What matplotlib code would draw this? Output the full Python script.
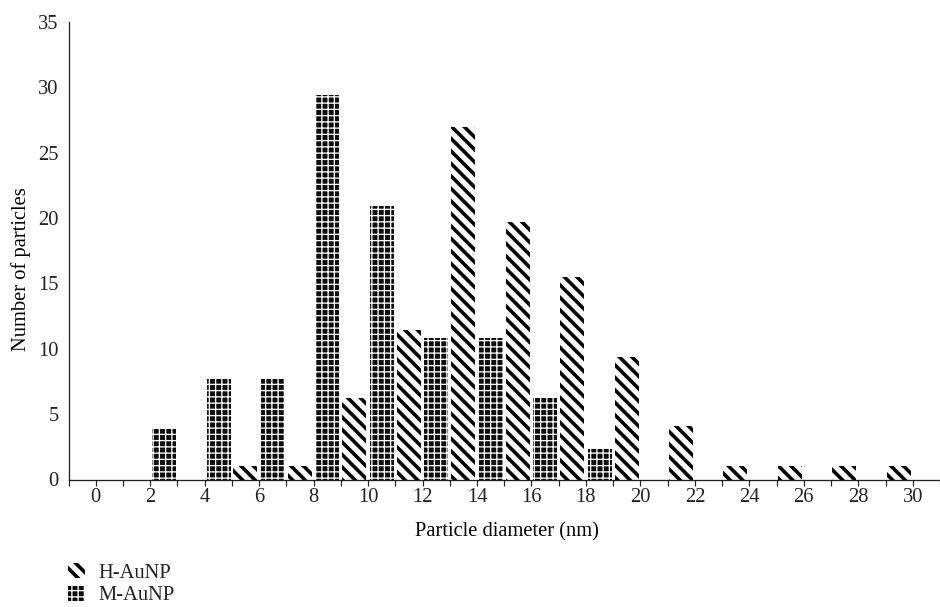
import matplotlib
matplotlib.use("Agg")
import matplotlib.pyplot as plt
import numpy as np

DPI = 75  # hatch tile is one inch, so this sets the stripe spacing

diameters = ["0", "2", "4", "6", "8", "10", "12", "14", "16", "18", "20", "22", "24", "26", "28", "30"]
h_aunp = [0, 0, 0, 1.0, 1.0, 6.2, 11.4, 27.0, 19.7, 15.5, 9.4, 4.1, 1.0, 1.0, 1.0, 1.0]
m_aunp = [0, 3.85, 7.7, 7.7, 29.4, 20.9, 10.8, 10.8, 6.2, 2.3, 0, 0, 0, 0, 0, 0]


def pt(px):
  # pixel size -> points at the figure dpi
  return px * 72.0 / DPI


plt.rcParams['font.family'] = ['Liberation Serif', 'DejaVu Serif']
plt.rcParams['text.color'] = '#222222'
plt.rcParams['xtick.color'] = '#222222'
plt.rcParams['ytick.color'] = '#222222'
plt.rcParams['hatch.linewidth'] = pt(3.6)

fs = pt(20.5)
m_hatch_lw = pt(1.3)

fig = plt.figure(figsize=(940 / DPI, 607 / DPI), dpi=DPI)
ax = fig.add_axes([68.5 / 940, 127.5 / 607, 1 - 68.5 / 940, 457.5 / 607])

x = np.arange(len(diameters))
w = 0.44
h_bars = ax.bar(x - 0.255, h_aunp, width=w, facecolor='white', edgecolor='black',
                linewidth=0, hatch='\\\\', label='H-AuNP')
m_bars = ax.bar(x + 0.255, m_aunp, width=w, facecolor='#0d0d0d', edgecolor='white',
                linewidth=0, hatch='++', label='M-AuNP')
for b in m_bars:
  b.set_hatch_linewidth(m_hatch_lw)

ax.set_xlim(-0.5, -0.5 + (940 - 68.5) / 54.8)
ax.set_ylim(0, 35)

ax.set_xticks(x)
ax.set_xticklabels(diameters, fontsize=fs)
ax.set_xticks(np.arange(-0.5, len(diameters), 1.0), minor=True)
ax.tick_params(axis='x', which='both', direction='out', length=pt(6), width=pt(1.2), pad=pt(2))
ax.set_yticks(np.arange(0, 36, 5))
ax.tick_params(axis='y', which='both', length=0, labelsize=fs, pad=pt(10))

for side in ['top', 'right']:
  ax.spines[side].set_visible(False)
for side in ['left', 'bottom']:
  ax.spines[side].set_linewidth(pt(1.3))
  ax.spines[side].set_color('#222222')

ax.set_xlabel("Particle diameter (nm)", fontsize=fs)
ax.xaxis.set_label_coords(0.503, -0.093)
ax.set_ylabel("Number of particles", fontsize=fs)
ax.yaxis.set_label_coords(-0.0425, 0.46)

leg = fig.legend(handles=[h_bars, m_bars], labels=['H-AuNP', 'M-AuNP'], loc='upper left',
                 bbox_to_anchor=(68 / 940, 1 - 563 / 607), frameon=False, fontsize=fs,
                 borderpad=0, borderaxespad=0, handlelength=0.85, handleheight=0.75,
                 handletextpad=0.65, labelspacing=0.15)
leg.legend_handles[1].set_hatch_linewidth(m_hatch_lw)

fig.savefig("out.png", dpi=DPI)
